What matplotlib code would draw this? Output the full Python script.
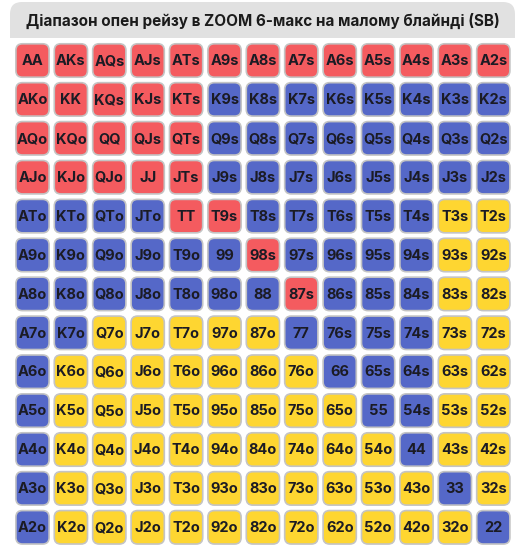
"""Open-raise range grid for ZOOM 6-max, small blind."""

import matplotlib

matplotlib.use("Agg")
import matplotlib.pyplot as plt
from matplotlib.patches import FancyBboxPatch, Rectangle

TITLE = "Діапазон опен рейзу в ZOOM 6-макс на малому блайнді (SB)"
RANKS = ["A", "K", "Q", "J", "T", "9", "8", "7", "6", "5", "4", "3", "2"]
# r = raise (red), b = blue group, y = yellow group; one string per row
RANGE = [
    "rrrrrrrrrrrrr",
    "rrrrrbbbbbbbb",
    "rrrrrbbbbbbbb",
    "rrrrrbbbbbbbb",
    "bbbbrrbbbbbyy",
    "bbbbbbrbbbbyy",
    "bbbbbbbrbbbyy",
    "bbyyyyybbbbyy",
    "byyyyyyybbbyy",
    "byyyyyyyybbyy",
    "byyyyyyyyybyy",
    "byyyyyyyyyyby",
    "byyyyyyyyyyyb",
]
COLORS = {"r": "#f45b5f", "b": "#5568c8", "y": "#fed631"}

W, H = 525, 550
FONT = ["Inter", "DejaVu Sans"]


def hand_label(i: int, j: int) -> str:
    if i == j:
        return RANKS[i] * 2
    if j > i:
        return RANKS[i] + RANKS[j] + "s"
    return RANKS[j] + RANKS[i] + "o"


def main() -> None:
    fig = plt.figure(figsize=(W / 100, H / 100), dpi=100)

    # title bar (rounded top, flat bottom), figure pixel coords
    bar = fig.add_axes([0, 0, 1, 1])
    bar.set_xlim(0, W)
    bar.set_ylim(H, 0)
    bar.axis("off")
    bar.add_patch(FancyBboxPatch((10, 2), 505, 36, boxstyle="round,pad=0,rounding_size=12",
                                 facecolor="#e1e1e1", edgecolor="none"))
    bar.add_patch(Rectangle((10, 20), 505, 18, facecolor="#e1e1e1", edgecolor="none"))
    bar.text(262.5, 21, TITLE, ha="center", va="center", fontsize=11.0, fontweight="bold",
             color="#1b1b1b", family=FONT)

    step_x, step_y = 38.4, 38.9
    left = 32.5 - step_x / 2
    top = 60.5 - step_y / 2
    ax = fig.add_axes([left / W, 1 - (top + 13 * step_y) / H, 13 * step_x / W, 13 * step_y / H])
    ax.set_xlim(-0.5, 12.5)
    ax.set_ylim(12.5, -0.5)
    ax.axis("off")

    size_x, size_y = 0.865, 0.86
    for i, row in enumerate(RANGE):
        for j, code in enumerate(row):
            ax.add_patch(FancyBboxPatch((j - size_x / 2, i - size_y / 2), size_x, size_y,
                                        boxstyle="round,pad=0,rounding_size=0.17",
                                        mutation_aspect=step_x / step_y,
                                        facecolor=COLORS[code], edgecolor="#c4c4c4", linewidth=1.2))
            ax.text(j, i + 0.02, hand_label(i, j), ha="center", va="center", fontsize=10.5,
                    fontweight="bold", color="#1b1b24", family=FONT)

    fig.savefig("out.png", dpi=100)
    plt.close(fig)


if __name__ == "__main__":
    main()
